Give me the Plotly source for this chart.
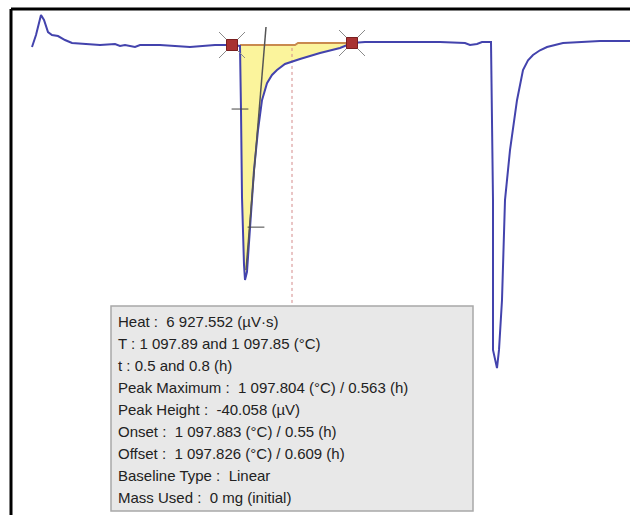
import plotly.graph_objects as go

# Measured signal (time in h, heat flow in µV)
time_h = [0.0, 0.01, 0.0225, 0.03, 0.04, 0.05, 0.065, 0.0825, 0.1, 0.1325, 0.17, 0.2075,
          0.22, 0.2325, 0.2575, 0.27, 0.32, 0.395, 0.42, 0.4575, 0.5, 0.52, 0.5225, 0.525,
          0.53, 0.5325, 0.5375, 0.5425, 0.5475, 0.555, 0.565, 0.575, 0.5875, 0.6, 0.6125,
          0.6325, 0.67, 0.72, 0.77, 0.8, 0.8325, 0.92, 1.02, 1.0825, 1.095, 1.1125, 1.125,
          1.1475, 1.1525, 1.1525, 1.1625, 1.1675, 1.175, 1.1825, 1.195, 1.2125, 1.2275,
          1.24, 1.2525, 1.27, 1.2875, 1.3275, 1.37, 1.42, 1.495]
signal_uv = [-0.34, 1.7, 5.1, 4.25, 2.2, 1.7, 1.53, 0.85, 0.34, 0.17, 0.0, 0.17,
             -0.17, 0.0, -0.34, 0.0, 0.0, -0.34, -0.17, 0.0, 0.0, -0.17, -11.06, -25.9,
             -37.4, -40.0, -38.6, -33.2, -28.1, -21.3, -14.5, -9.4, -6.5, -5.1, -4.25,
             -3.23, -2.38, -1.36, -0.51, 0.34, 0.51, 0.51, 0.51, 0.34, 0.0, 0.17, 0.51,
             0.51, -26.4, -51.9, -55.0, -51.9, -43.4, -26.4, -17.9, -9.4, -4.25,
             -2.6, -1.7, -0.9, -0.34, 0.34, 0.51, 0.68, 0.68]

# Integration limits and linear baseline
limit_t = [0.5, 0.8]
limit_v = [0.0, 0.34]
baseline_t = [0.52, 0.6575, 0.665, 0.8]
baseline_v = [0.0, 0.0, 0.34, 0.34]

# Tangent line and peak maximum marker
tangent_t = [0.585, 0.535]
tangent_v = [3.06, -38.3]
peakmax_t = 0.65
peakmax_v = [-0.5, -44.4]

info_lines = [
    "Heat :  6 927.552 (µV·s)",
    "T : 1 097.89 and 1 097.85 (°C)",
    "t : 0.5 and 0.8 (h)",
    "Peak Maximum :  1 097.804 (°C) / 0.563 (h)",
    "Peak Height :  -40.058 (µV)",
    "Onset :  1 097.883 (°C) / 0.55 (h)",
    "Offset :  1 097.826 (°C) / 0.609 (h)",
    "Baseline Type :  Linear",
    "Mass Used :  0 mg (initial)",
]

# fill region between baseline and peak
i0 = time_h.index(0.52)
i1 = time_h.index(0.8)
fill_t = baseline_t + time_h[i0:i1 + 1][::-1]
fill_v = baseline_v + signal_uv[i0:i1 + 1][::-1]

fig = go.Figure()
fig.add_trace(go.Scatter(x=fill_t, y=fill_v, fill="toself", fillcolor="#fbf49c",
                         line=dict(width=0), mode="lines", hoverinfo="skip"))
fig.add_trace(go.Scatter(x=baseline_t, y=baseline_v, mode="lines",
                         line=dict(color="#c98a4e", width=2)))
fig.add_trace(go.Scatter(x=[peakmax_t, peakmax_t], y=peakmax_v, mode="lines",
                         line=dict(color="#d48a8a", width=1, dash="dot")))
fig.add_trace(go.Scatter(x=time_h, y=signal_uv, mode="lines",
                         line=dict(color="#4343ad", width=2)))
fig.add_trace(go.Scatter(x=tangent_t, y=tangent_v, mode="lines",
                         line=dict(color="#555555", width=1.5)))
fig.add_trace(go.Scatter(x=[0.52, 0.56], y=[-10.9, -31.0], mode="markers",
                         marker=dict(symbol="line-ew", size=12, color="#444444",
                                     line=dict(color="#444444", width=1))))
fig.add_trace(go.Scatter(x=limit_t, y=limit_v, mode="markers",
                         marker=dict(symbol="x-thin-open", size=26, color="#8a8a8a",
                                     line=dict(color="#8a8a8a", width=1))))
fig.add_trace(go.Scatter(x=limit_t, y=limit_v, mode="markers",
                         marker=dict(symbol="square", size=11, color="#a83232",
                                     line=dict(color="#7a1f1f", width=1))))

W, H = 630, 515
shapes = [
    dict(type="line", xref="paper", yref="paper", x0=11 / W, x1=1, y0=1 - 9 / H, y1=1 - 9 / H,
         line=dict(color="black", width=3)),
    dict(type="line", xref="paper", yref="paper", x0=11 / W, x1=11 / W, y0=0, y1=1 - 9 / H,
         line=dict(color="black", width=3)),
    dict(type="rect", xref="paper", yref="paper", x0=111 / W, x1=473 / W,
         y0=1 - 511 / H, y1=1 - 306 / H, fillcolor="#e8e8e8",
         line=dict(color="#a8a8a8", width=1.5), layer="above"),
]
annotations = []
for k, line in enumerate(info_lines):
    py = 321 + 22 * k
    annotations.append(dict(xref="paper", yref="paper", x=116 / W, y=1 - py / H,
                            text=line, showarrow=False, xanchor="left", yanchor="middle",
                            font=dict(family="Liberation Sans, Arial", size=15, color="#222222")))

fig.update_layout(
    width=W, height=H, margin=dict(l=0, r=0, t=0, b=0),
    paper_bgcolor="white", plot_bgcolor="white", showlegend=False,
    xaxis=dict(range=[-0.08, 1.495], visible=False),
    yaxis=dict(range=[-80.0, 7.66], visible=False),
    shapes=shapes, annotations=annotations,
)
fig.write_html("out.html")
